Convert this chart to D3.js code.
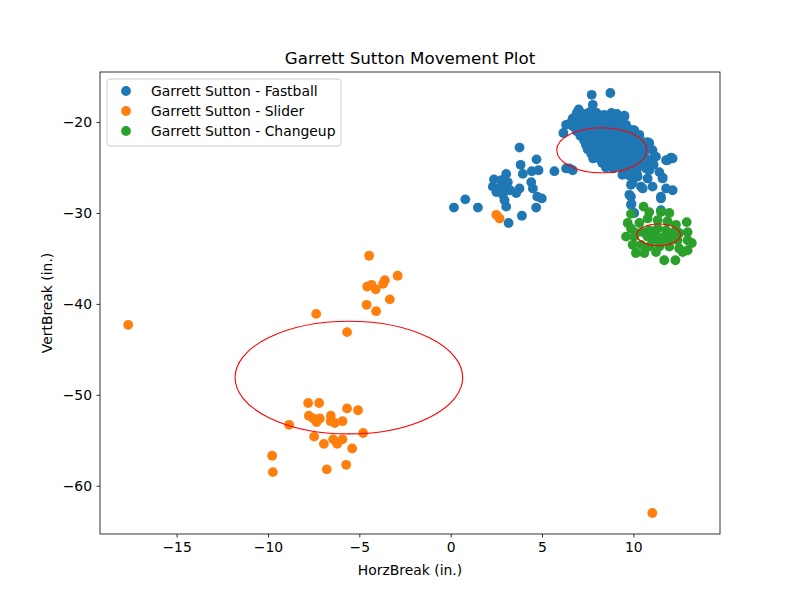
<!DOCTYPE html>
<html>
<head>
<meta charset="utf-8">
<script src="https://cdn.jsdelivr.net/npm/d3@7"></script>
<style>
  body { margin: 0; background: #fff; }
  text { font-family: "DejaVu Sans", sans-serif; }
</style>
</head>
<body>
<svg width="800" height="600"></svg>
<script>
// pitch names / series labels
const pitchNames = ["Fastball", "Slider", "Changeup"];
const pitcher = "Garrett Sutton";
const colors = ["#1f77b4", "#ff7f0e", "#2ca02c"];

// [HorzBreak, VertBreak]
const fastball = [
  [3.77, -22.8], [3.83, -24.7], [4.7, -24.1], [3.95, -25.7], [4.44, -25.4], [4.81, -25.3],
  [5.68, -25.4], [6.32, -25.1], [3.04, -25.7], [2.37, -26.3], [2.77, -26.4], [3.13, -26.6],
  [2.31, -27.1], [2.58, -27.3], [2.95, -27.1], [3.26, -27.5], [3.77, -27.3], [4.41, -26.6],
  [4.5, -27.3], [3.59, -27.8], [2.86, -28.0], [2.5, -27.7], [2.95, -28.6], [3.04, -29.3],
  [4.74, -28.2], [4.99, -28.4], [4.68, -29.4], [3.9, -30.3], [3.17, -31.1], [1.49, -29.4],
  [0.8, -28.5], [0.18, -29.4],
  [7.72, -17.0], [8.74, -16.8], [7.78, -18.1], [7.01, -18.6], [6.68, -19.6], [6.32, -20.3],
  [6.17, -21.2], [9.51, -19.3], [9.23, -20.1], [10.05, -20.9], [10.33, -21.4], [10.78, -22.2],
  [11.05, -23.1], [11.15, -23.8], [11.79, -24.2], [12.06, -23.9], [11.11, -24.7], [11.6, -26.1],
  [6.5, -25.1], [6.68, -25.3], [9.96, -26.7], [10.42, -27.1],
  [11.87, -24.2], [12.15, -24.0], [11.6, -26.2], [10.51, -27.3], [11.05, -27.1], [11.79, -27.3],
  [12.15, -27.5], [11.51, -28.2], [9.87, -26.9], [9.78, -28.0], [9.87, -29.1], [10.78, -26.2],
  [10.24, -26.0], [10.87, -25.3], [11.42, -25.5], [11.24, -23.8], [10.87, -22.3], [9.51, -19.4],
  [9.23, -19.8], [9.96, -20.9], [9.87, -28.2], [9.9, -29.0], [10.05, -30.0], [11.51, -28.4],
  [11.51, -29.7],
  [6.9, -19.0], [7.3, -19.1], [7.6, -18.9], [8.0, -19.0], [8.4, -19.2], [8.8, -19.0], [9.1, -19.1],
  [7.1, -19.5], [7.5, -19.6], [7.9, -19.4], [8.3, -19.6], [8.7, -19.5], [9.2, -19.6],
  [6.6, -20.0], [7.0, -20.1], [7.4, -19.9], [7.8, -20.0], [8.1, -20.2], [8.5, -19.9], [8.9, -20.1], [9.3, -20.0], [9.6, -20.3],
  [6.7, -20.5], [7.2, -20.6], [7.6, -20.4], [8.0, -20.6], [8.4, -20.5], [8.8, -20.6], [9.2, -20.5], [9.7, -20.7],
  [6.9, -21.0], [7.3, -21.1], [7.7, -20.9], [8.0, -21.0], [8.3, -21.2], [8.7, -20.9], [9.0, -21.1], [9.4, -21.0], [9.8, -21.3],
  [7.1, -21.5], [7.5, -21.6], [7.9, -21.4], [8.4, -21.6], [8.8, -21.5], [9.2, -21.6], [9.6, -21.5], [10.1, -21.7],
  [7.3, -22.0], [7.6, -22.1], [7.9, -21.9], [8.2, -22.0], [8.6, -22.2], [8.9, -21.9], [9.3, -22.1], [9.6, -22.0], [10.0, -22.2], [10.4, -22.0],
  [7.4, -22.5], [7.8, -22.6], [8.3, -22.4], [8.7, -22.6], [9.1, -22.5], [9.5, -22.6], [9.9, -22.5], [10.3, -22.7],
  [7.5, -23.0], [7.8, -23.1], [8.1, -22.9], [8.5, -23.0], [8.8, -23.2], [9.2, -22.9], [9.5, -23.1], [9.9, -23.0], [10.2, -23.2], [10.6, -23.0],
  [7.7, -23.5], [8.1, -23.6], [8.6, -23.4], [9.0, -23.6], [9.4, -23.5], [9.8, -23.6], [10.2, -23.5], [10.6, -23.7],
  [7.8, -24.0], [8.2, -24.1], [8.6, -23.9], [9.0, -24.0], [9.3, -24.2], [9.7, -23.9], [10.0, -24.1], [10.4, -24.0], [10.8, -24.2],
  [8.3, -24.5], [8.7, -24.6], [9.1, -24.4], [9.5, -24.6], [9.9, -24.5], [10.3, -24.6], [10.6, -24.5],
  [8.5, -25.0], [8.9, -25.1], [9.3, -24.9], [9.6, -25.0], [10.0, -25.2], [10.3, -24.9], [10.7, -25.1],
  [9.4, -25.8], [9.8, -25.9], [10.2, -25.7]
];

const slider = [
  [-4.46, -34.7], [-2.9, -36.9], [-3.6, -37.4], [-3.7, -37.8], [-4.57, -38.1], [-4.33, -37.9],
  [-4.1, -38.4], [-3.33, -39.5], [-4.6, -40.1], [-4.08, -40.8], [-7.36, -41.1], [-5.67, -43.1],
  [-7.8, -50.9], [-7.2, -50.9], [-5.67, -51.5], [-5.07, -51.7], [-7.76, -52.3], [-7.52, -52.6],
  [-7.16, -52.6], [-6.56, -52.3], [-7.34, -53.0], [-6.57, -52.9], [-6.34, -53.1], [-5.92, -52.9],
  [-8.84, -53.3], [-4.79, -54.2], [-7.47, -54.6], [-6.94, -55.4], [-6.43, -54.9], [-6.21, -55.4],
  [-5.92, -54.9], [-5.39, -55.9], [-9.77, -56.7], [-9.73, -58.5], [-6.78, -58.2], [-5.72, -57.7],
  [-17.65, -42.3], [11.04, -63.0], [2.5, -30.2], [2.68, -30.6]
];

const changeup = [
  [10.56, -29.3], [10.87, -29.9], [11.51, -29.9], [11.97, -30.0], [9.87, -30.1], [10.78, -30.6],
  [11.33, -30.8], [9.69, -31.1], [12.92, -31.0], [9.87, -31.7], [12.97, -32.1], [9.6, -32.6],
  [10.05, -32.6], [12.97, -33.0], [13.2, -33.3], [9.96, -33.5], [10.42, -33.5], [10.87, -33.7],
  [11.42, -33.7], [11.97, -33.7], [12.51, -33.9], [12.97, -34.1], [12.7, -34.3], [10.14, -34.4],
  [10.6, -34.4], [11.24, -34.3], [11.69, -35.2], [12.3, -35.2], [10.14, -32.2], [10.5, -32.1],
  [10.87, -31.9], [11.33, -31.7], [11.79, -31.9], [12.15, -32.2], [10.78, -32.6], [11.24, -32.4],
  [11.69, -32.6], [11.05, -33.0], [11.51, -33.2], [11.97, -33.0], [12.42, -33.0], [12.33, -31.3],
  [11.87, -30.9], [10.33, -31.1], [12.51, -32.2]
];

// ellipse per pitch: [centerX, centerY, width, height] in inches
const ellipses = [
  [8.27, -23.1, 4.92, 4.95],
  [-5.57, -48.1, 12.46, 12.4],
  [11.38, -32.4, 2.39, 2.38]
];

const xTicks = [-15, -10, -5, 0, 5, 10];
const yTicks = [-60, -50, -40, -30, -20];

const series = [fastball, slider, changeup];

const margin = { top: 72, right: 80, bottom: 66, left: 100 };
const width = 800, height = 600;
const svg = d3.select("svg");

const allPts = series.flat();
const xExt = d3.extent(allPts, d => d[0]);
const yExt = d3.extent(allPts, d => d[1]);
const xPad = (xExt[1] - xExt[0]) * 0.05;
const yPad = (yExt[1] - yExt[0]) * 0.05;

const x = d3.scaleLinear()
  .domain([xExt[0] - xPad, xExt[1] + xPad])
  .range([margin.left, width - margin.right]);
const y = d3.scaleLinear()
  .domain([yExt[0] - yPad, yExt[1] + yPad])
  .range([height - margin.bottom, margin.top]);

const plot = svg.append("g");
const dotR = 4.9;

series.forEach((pts, i) => {
  plot.append("g")
    .selectAll("circle")
    .data(pts)
    .enter()
    .append("circle")
    .attr("cx", d => x(d[0]))
    .attr("cy", d => y(d[1]))
    .attr("r", dotR)
    .attr("fill", colors[i]);
});

plot.append("g")
  .selectAll("ellipse")
  .data(ellipses)
  .enter()
  .append("ellipse")
  .attr("cx", d => x(d[0]))
  .attr("cy", d => y(d[1]))
  .attr("rx", d => Math.abs(x(d[0] + d[2] / 2) - x(d[0])))
  .attr("ry", d => Math.abs(y(d[1] + d[3] / 2) - y(d[1])))
  .attr("fill", "none")
  .attr("stroke", "red")
  .attr("stroke-width", 1.1);

// axes
const xAxis = svg.append("g")
  .attr("transform", `translate(0,${height - margin.bottom})`)
  .call(d3.axisBottom(x).tickValues(xTicks).tickSize(3.5).tickPadding(4.5).tickFormat(d => d < 0 ? "\u2212" + Math.abs(d) : d));
const yAxis = svg.append("g")
  .attr("transform", `translate(${margin.left},0)`)
  .call(d3.axisLeft(y).tickValues(yTicks).tickSize(3.5).tickPadding(4.5).tickFormat(d => d < 0 ? "\u2212" + Math.abs(d) : d));

[xAxis, yAxis].forEach(a => {
  a.select(".domain").remove();
  a.selectAll("line").attr("stroke", "#000").attr("stroke-width", 0.8);
  a.selectAll("text").attr("font-size", 13.9).attr("fill", "#000")
    .style("font-family", "DejaVu Sans, sans-serif");
});

// frame
svg.append("rect")
  .attr("x", margin.left)
  .attr("y", margin.top)
  .attr("width", width - margin.left - margin.right)
  .attr("height", height - margin.top - margin.bottom)
  .attr("fill", "none")
  .attr("stroke", "#000")
  .attr("stroke-width", 0.8);

// labels
svg.append("text")
  .attr("x", (margin.left + width - margin.right) / 2)
  .attr("y", 64)
  .attr("text-anchor", "middle")
  .attr("font-size", 16.7)
  .text(pitcher + " Movement Plot");

svg.append("text")
  .attr("x", (margin.left + width - margin.right) / 2)
  .attr("y", 575)
  .attr("text-anchor", "middle")
  .attr("font-size", 13.9)
  .text("HorzBreak (in.)");

svg.append("text")
  .attr("transform", `translate(52,${(margin.top + height - margin.bottom) / 2}) rotate(-90)`)
  .attr("text-anchor", "middle")
  .attr("font-size", 13.9)
  .text("VertBreak (in.)");

// legend
const legend = svg.append("g");
legend.append("rect")
  .attr("x", 107).attr("y", 79)
  .attr("width", 234).attr("height", 67)
  .attr("rx", 3)
  .attr("fill", "#fff").attr("fill-opacity", 0.8)
  .attr("stroke", "#ccc").attr("stroke-width", 1);

pitchNames.forEach((name, i) => {
  const row = legend.append("g").attr("transform", `translate(0,${91 + i * 20})`);
  row.append("circle").attr("cx", 126).attr("cy", 0).attr("r", dotR).attr("fill", colors[i]);
  row.append("text").attr("x", 151).attr("y", 5).attr("font-size", 13.9)
    .text(pitcher + " - " + name);
});
</script>
</body>
</html>
